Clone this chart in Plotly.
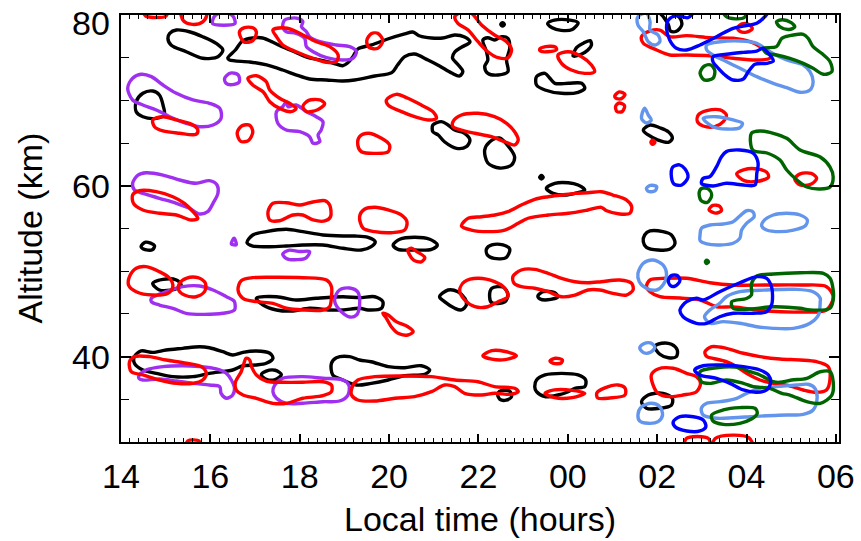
import plotly.graph_objects as go

# ---- contour outlines: (local time in hours after 14 LT, altitude km) ----
black_contours = [
    [(15.09,77.86),(15.24,78.24),(15.53,78.04),(15.83,77.46),(16.13,76.69),(16.28,75.9),(16.17,75.12),(15.83,74.93),(15.46,75.7),(15.12,76.49),(15.05,77.27)],
    [(16.39,74.96),(16.56,75.9),(16.72,76.96),(16.95,77.31),(17.17,77.31),(17.39,76.84),(17.62,76.25),(17.89,75.67),(18.16,75.08),(18.45,74.73),(18.74,74.38),(18.96,74.06),(19.07,74.38),(19.19,75.12),(19.3,76.02),(19.61,76.49),(19.97,77.19),(20.35,77.78),(20.53,78.01),(20.69,77.54),(20.95,77.31),(21.2,77.31),(21.47,77.66),(21.69,77.42),(21.81,76.84),(21.63,76.25),(21.47,75.67),(21.42,74.96),(21.54,74.2),(21.65,73.4),(21.58,72.86),(21.4,73.21),(21.13,74.03),(20.87,74.73),(20.57,75.43),(20.35,75.12),(20.19,74.15),(20.06,73.25),(19.68,72.86),(19.23,72.39),(18.96,72.27),(18.6,72.39),(18.22,72.51),(17.93,72.97),(17.62,73.56),(17.26,74.15),(16.88,74.5),(16.43,74.73)],
    [(14.34,69.85),(14.49,70.83),(14.71,71.1),(14.86,70.63),(14.94,69.46),(14.97,68.29),(14.79,67.9),(14.49,68.09),(14.34,68.68)],
    [(22.1,77.07),(22.21,77.34),(22.36,77.07),(22.52,77.46),(22.66,77.27),(22.7,76.1),(22.63,74.73),(22.66,73.36),(22.44,72.97),(22.21,73.17),(22.14,73.95),(22.21,74.73),(22.18,75.7)],
    [(22.5,78.9),(22.54,79.1),(22.58,78.9),(22.54,78.7)],
    [(23.55,79.0),(23.7,79.4),(24.05,79.4),(24.23,79.1),(24.1,78.3),(23.85,78.2),(23.65,78.5)],
    [(24.2,76.2),(24.35,76.7),(24.5,77.0),(24.53,76.5),(24.45,75.9),(24.3,75.4),(24.12,75.2)],
    [(23.3,72.78),(23.49,73.17),(23.6,72.59),(23.71,72.0),(24.01,72.0),(24.31,72.0),(24.38,71.42),(24.23,70.95),(23.86,70.83),(23.49,71.22),(23.3,71.8)],
    [(20.98,67.12),(21.17,67.51),(21.32,67.12),(21.47,66.53),(21.69,66.15),(21.81,65.36),(21.73,64.58),(21.51,64.39),(21.24,65.16),(21.1,65.95),(20.98,66.33)],
    [(22.14,64.19),(22.25,65.13),(22.47,65.6),(22.7,64.43),(22.81,63.37),(22.74,62.43),(22.47,62.08),(22.21,62.67)],
    [(26.05,80.4),(26.3,80.3),(26.5,79.7),(26.55,78.83),(26.43,78.1),(26.3,78.1),(26.25,78.9),(26.15,79.7)],
    [(25.69,66.53),(25.84,67.12),(26.06,66.8),(26.25,66.33),(26.34,65.56),(26.25,65.09),(26.02,65.36),(25.8,65.95)],
    [(25.72,54.24),(25.84,54.71),(26.13,54.63),(26.32,54.24),(26.4,53.27),(26.28,52.56),(26.02,52.48),(25.76,52.8),(25.69,53.45)],
    [(23.37,61.0),(23.41,61.2),(23.45,61.0),(23.41,60.8)],
    [(23.52,59.71),(23.71,60.29),(24.01,60.36),(24.23,60.09),(24.38,59.51),(24.16,59.12),(23.93,58.92),(23.67,59.12)],
    [(16.82,53.34),(16.95,54.24),(17.25,54.63),(17.7,54.91),(18.07,54.63),(18.52,54.24),(18.97,54.12),(19.23,54.12),(19.53,53.97),(19.69,53.45),(19.6,52.87),(19.38,52.48),(18.97,52.68),(18.52,53.07),(18.07,53.07),(17.7,52.95),(17.33,52.87),(16.95,52.95)],
    [(20.09,53.07),(20.24,53.74),(20.57,53.97),(20.91,53.74),(21.08,53.07),(20.95,52.56),(20.57,52.48),(20.2,52.56)],
    [(22.18,52.6),(22.3,53.07),(22.55,53.07),(22.7,52.6),(22.62,51.6),(22.35,51.5),(22.2,51.9)],
    [(21.13,47.01),(21.32,47.8),(21.54,47.6),(21.7,46.8),(21.73,46.04),(21.62,45.46),(21.47,45.66),(21.24,46.43)],
    [(22.25,47.0),(22.3,48.0),(22.55,48.15),(22.66,47.3),(22.59,46.4),(22.3,46.3)],
    [(23.33,47.1),(23.45,47.6),(23.7,47.5),(23.78,47.0),(23.55,46.65),(23.38,46.75)],
    [(14.45,52.9),(14.55,53.4),(14.75,53.0),(14.7,52.5),(14.5,52.6)],
    [(14.71,48.58),(14.94,49.05),(15.24,48.97),(15.35,48.38),(15.2,47.88),(14.86,47.8)],
    [(17.03,46.83),(17.48,47.01),(17.92,46.63),(18.37,46.83),(18.97,47.01),(19.34,46.9),(19.68,47.01),(19.86,46.43),(19.83,45.66),(19.53,45.46),(19.34,45.66),(18.97,45.46),(18.67,45.46),(18.22,45.66),(17.85,45.34),(17.48,45.46),(17.18,46.04)],
    [(14.3,40.0),(14.45,40.66),(14.71,40.5),(15.01,40.77),(15.38,40.97),(15.76,41.16),(15.98,41.04),(16.28,40.57),(16.5,40.19),(16.73,40.5),(17.03,40.66),(17.33,40.39),(17.4,39.8),(17.25,39.22),(17.03,39.02),(16.73,38.93),(16.5,38.43),(15.98,38.04),(15.61,37.65),(15.16,37.65),(14.79,38.04),(14.49,38.43),(14.3,39.22)],
    [(17.14,37.85),(17.25,38.3),(17.45,38.4),(17.59,37.9),(17.45,37.3),(17.25,37.35)],
    [(18.71,39.22),(18.82,39.87),(19.12,40.0),(19.34,39.6),(19.6,39.4),(19.98,38.82),(20.35,38.7),(20.72,38.93),(20.91,38.43),(20.8,37.93),(20.35,37.76),(19.98,37.26),(19.6,36.87),(19.27,36.67),(18.97,37.26),(18.74,37.85)],
    [(22.43,35.6),(22.5,36.0),(22.7,35.95),(22.74,35.3),(22.62,34.9),(22.48,35.0)],
    [(23.3,37.26),(23.49,37.85),(23.86,38.04),(24.23,37.85),(24.4,37.26),(24.38,36.48),(24.16,36.29),(24.01,35.89),(23.78,35.5),(23.49,35.31),(23.3,35.89),(23.26,36.48)],
    [(25.95,41.16),(26.1,41.56),(26.32,41.44),(26.45,40.77),(26.43,40.0),(26.25,39.87),(26.06,40.27)],
    [(25.65,34.72),(25.8,35.5),(26.13,35.7),(26.34,35.12),(26.32,34.33),(26.06,33.95),(25.76,33.95)],
]

purple_contours = [
    [(16.05,79.0),(16.1,79.9),(16.3,80.3),(16.5,79.9),(16.55,79.0),(16.3,78.8)],
    [(17.66,79.41),(17.77,79.61),(17.96,79.61),(18.07,79.22),(18.04,78.63),(18.15,78.04),(18.22,77.46),(18.45,76.87),(18.82,76.49),(19.12,76.29),(19.27,75.7),(19.19,74.93),(18.97,74.73),(18.6,75.0),(18.3,75.7),(18.15,76.29),(18.11,77.27),(17.92,77.86),(17.7,78.04),(17.62,78.63)],
    [(16.32,72.6),(16.45,73.2),(16.62,73.0),(16.65,72.2),(16.5,71.85),(16.35,72.0)],
    [(17.48,68.68),(17.62,69.26),(17.7,69.85),(17.74,69.26),(17.92,69.46),(18.15,68.68),(18.37,68.09),(18.52,67.51),(18.48,66.53),(18.41,65.95),(18.45,65.16),(18.3,64.98),(18.22,65.75),(18.0,66.33),(17.7,66.53),(17.51,67.32)],
    [(14.15,71.42),(14.26,72.59),(14.45,73.06),(14.68,72.78),(14.94,71.8),(15.24,70.83),(15.61,70.05),(15.98,69.66),(16.21,69.07),(16.24,67.9),(16.06,67.12),(15.76,66.92),(15.46,67.32),(15.09,68.09),(14.79,68.88),(14.49,69.46),(14.26,70.05)],
    [(14.26,60.29),(14.38,61.26),(14.56,61.53),(14.94,61.26),(15.31,60.68),(15.68,60.29),(15.98,60.6),(16.15,60.09),(16.17,59.12),(16.06,57.95),(15.94,56.97),(15.76,56.7),(15.53,57.37),(15.24,57.95),(14.86,58.54),(14.49,59.12),(14.3,59.51)],
    [(16.47,53.2),(16.53,53.85),(16.58,53.1)],
    [(17.62,52.0),(17.75,52.45),(18.0,52.3),(18.22,52.3),(18.15,51.6),(17.95,51.35),(17.7,51.5)],
    [(14.68,46.83),(15.01,47.6),(15.38,48.19),(15.76,48.27),(16.06,47.8),(16.36,47.01),(16.5,46.63),(16.54,46.43),(16.54,45.46),(16.28,45.07),(15.83,44.95),(15.46,45.07),(15.16,45.66),(14.86,46.04),(14.68,46.43)],
    [(18.78,46.63),(18.89,47.8),(19.12,48.03),(19.3,47.56),(19.34,46.04),(19.27,44.87),(19.12,44.64),(18.89,45.46)],
    [(14.41,37.85),(14.56,38.43),(14.94,38.82),(15.38,38.93),(15.76,38.82),(16.13,38.55),(16.36,38.04),(16.47,37.26),(16.54,36.29),(16.5,35.5),(16.36,35.12),(16.24,35.7),(16.21,36.48),(15.98,36.67),(15.61,36.87),(15.24,37.14),(14.86,37.38),(14.49,37.26),(14.4,37.45)],
    [(17.44,36.67),(17.62,37.46),(18.07,37.65),(18.52,37.46),(18.97,37.26),(19.1,36.67),(19.08,35.5),(18.89,34.8),(18.52,34.72),(18.07,34.53),(17.7,34.53),(17.48,35.12),(17.4,35.89)],
]

red_contours = [
    [(14.5,80.6),(14.55,79.9),(14.8,79.7),(15.0,79.85),(15.05,80.6)],
    [(15.35,80.5),(15.4,79.3),(15.6,78.9),(15.83,79.2),(15.92,80.0),(15.9,80.5)],
    [(16.65,78.0),(16.75,78.5),(16.95,78.5),(17.03,78.0),(16.95,77.0),(16.75,76.85)],
    [(17.4,78.24),(17.62,78.51),(17.85,78.24),(18.07,77.66),(18.37,76.87),(18.67,76.29),(18.86,75.32),(18.82,74.53),(18.6,74.46),(18.3,74.93),(17.92,75.7),(17.62,76.49),(17.48,77.46)],
    [(16.84,72.59),(17.03,72.89),(17.25,72.19),(17.33,71.22),(17.55,70.25),(17.77,69.66),(17.92,69.07),(17.81,68.68),(17.55,69.07),(17.33,69.85),(17.18,71.02),(16.95,71.8)],
    [(18.07,69.3),(18.2,70.0),(18.45,70.05),(18.56,69.6),(18.4,68.9),(18.15,68.7)],
    [(16.6,66.2),(16.7,67.0),(16.88,67.1),(16.95,66.3),(16.85,65.3),(16.68,65.2)],
    [(14.71,67.71),(14.94,68.09),(15.24,67.71),(15.61,67.12),(15.72,66.53),(15.68,66.03),(15.31,66.15),(14.94,66.42),(14.75,66.92)],
    [(19.34,65.75),(19.53,66.15),(19.83,65.56),(20.01,64.78),(19.98,63.99),(19.68,63.8),(19.38,63.99),(19.3,64.78)],
    [(19.5,77.0),(19.6,77.8),(19.75,77.85),(19.86,77.0),(19.75,76.1),(19.55,76.2)],
    [(21.47,79.8),(21.62,80.3),(21.84,80.2),(22.07,78.83),(22.36,77.66),(22.63,76.87),(22.74,75.9),(22.66,75.0),(22.44,75.0),(22.21,75.7),(21.99,76.87),(21.77,78.24),(21.54,79.03)],
    [(23.37,76.0),(23.5,76.3),(23.72,76.25),(23.75,75.95),(23.55,75.7),(23.4,75.75)],
    [(23.78,75.32),(24.01,75.7),(24.31,75.12),(24.53,74.15),(24.6,73.36),(24.38,73.17),(24.08,73.56),(23.86,74.34)],
    [(19.94,70.05),(20.16,70.71),(20.42,70.25),(20.72,69.46),(20.98,68.68),(21.06,67.9),(20.87,67.71),(20.57,68.09),(20.28,68.68),(19.98,69.46)],
    [(21.43,67.51),(21.62,68.29),(21.99,68.49),(22.36,68.09),(22.63,67.32),(22.81,66.33),(22.89,65.36),(22.81,64.78),(22.59,65.16),(22.29,65.75),(21.92,66.15),(21.62,66.53),(21.43,66.92)],
    [(25.65,77.46),(25.84,78.13),(26.06,78.24),(26.28,77.46),(26.66,77.58),(27.18,77.34),(27.7,77.27),(28.08,76.87),(28.37,76.1),(28.56,75.52),(28.52,74.93),(28.23,74.73),(27.7,74.93),(27.18,75.23),(26.66,75.32),(26.28,75.32),(25.99,75.9),(25.69,76.69)],
    [(27.8,78.5),(27.9,78.95),(28.05,78.9),(28.13,78.4),(28.0,78.0),(27.85,78.1)],
    [(25.05,70.5),(25.15,71.0),(25.28,70.7),(25.2,70.2),(25.08,70.25)],
    [(25.07,69.3),(25.15,69.7),(25.27,69.4),(25.22,68.7),(25.1,68.7)],
    [(25.86,65.1),(25.9,65.35),(25.95,65.1),(25.9,64.85)],
    [(26.92,68.29),(27.11,68.79),(27.41,68.88),(27.55,68.29),(27.48,67.51),(27.29,66.92),(27.03,67.0),(26.9,67.51)],
    [(27.78,61.4),(27.95,61.9),(28.2,62.0),(28.45,61.6),(28.49,61.0),(28.2,60.5),(27.95,60.6)],
    [(29.08,60.8),(29.2,61.4),(29.45,61.45),(29.57,60.9),(29.45,60.2),(29.2,60.1)],
    [(27.16,57.2),(27.25,57.7),(27.4,57.6),(27.44,57.1),(27.3,56.8)],
    [(21.62,55.29),(21.77,56.2),(22.07,56.38),(22.37,56.58),(22.66,56.97),(22.96,57.75),(23.26,58.42),(23.56,58.72),(23.86,58.92),(24.16,59.12),(24.45,59.19),(24.75,59.31),(25.01,58.92),(25.31,58.34),(25.43,57.55),(25.39,56.78),(25.16,56.7),(24.87,57.08),(24.75,57.48),(24.45,57.17),(24.01,56.78),(23.56,56.58),(23.11,56.2),(22.89,55.61),(22.59,54.82),(22.21,54.63),(21.84,54.82)],
    [(19.34,56.38),(19.45,57.25),(19.68,57.48),(19.98,57.17),(20.28,56.58),(20.4,55.8),(20.35,54.82),(20.05,54.51),(19.68,54.63),(19.42,55.02)],
    [(20.42,52.5),(20.5,52.68),(20.62,52.3),(20.8,51.6),(20.72,51.1),(20.55,51.3),(20.45,52.0)],
    [(21.58,47.8),(21.69,48.77),(21.99,49.17),(22.36,48.77),(22.59,48.0),(22.66,47.01),(22.44,46.43),(22.21,45.84),(21.92,45.84),(21.69,46.63)],
    [(22.77,49.36),(22.96,50.14),(23.26,50.22),(23.56,49.75),(23.86,49.17),(24.16,48.77),(24.45,48.65),(24.75,48.77),(25.16,48.97),(25.43,48.58),(25.46,47.8),(25.31,47.21),(25.01,47.41),(24.72,47.8),(24.45,47.8),(24.16,47.21),(23.86,47.01),(23.56,47.6),(23.26,48.0),(22.96,48.19),(22.8,48.58)],
    [(14.26,58.92),(14.41,59.42),(14.79,59.31),(15.16,58.72),(15.42,57.95),(15.61,56.97),(15.72,56.19),(15.57,56.0),(15.24,56.58),(14.86,56.78),(14.49,57.17),(14.28,57.95)],
    [(17.29,56.97),(17.4,57.95),(17.7,58.02),(18.0,57.75),(18.22,58.02),(18.56,58.26),(18.67,57.75),(18.69,56.38),(18.56,55.88),(18.3,56.0),(18.07,56.58),(17.85,56.58),(17.55,55.91),(17.33,56.0)],
    [(14.19,49.36),(14.34,50.34),(14.56,50.53),(14.86,49.94),(15.09,49.17),(15.16,48.19),(15.05,47.41),(14.71,47.21),(14.34,47.6),(14.17,48.38)],
    [(15.31,48.58),(15.46,49.17),(15.72,49.24),(15.89,48.58),(15.87,47.6),(15.68,47.01),(15.42,47.21),(15.29,47.8)],
    [(16.62,47.8),(16.69,48.89),(16.95,49.24),(17.48,49.29),(18.07,49.24),(18.6,48.97),(18.71,48.19),(18.71,47.01),(18.67,45.84),(18.52,45.46),(18.07,45.46),(17.7,45.66),(17.4,46.24),(17.03,46.43),(16.73,46.83)],
    [(14.19,39.4),(14.3,40.0),(14.64,40.0),(15.01,39.6),(15.46,39.22),(15.8,38.82),(15.91,38.04),(15.83,37.26),(15.61,36.87),(15.24,36.87),(14.86,37.26),(14.49,37.85),(14.23,38.23)],
    [(16.8,39.8),(16.88,39.6),(16.92,38.82),(17.03,37.85),(17.25,37.14),(17.62,36.99),(18.07,36.99),(18.52,37.06),(18.71,36.67),(18.71,35.89),(18.52,35.42),(18.07,35.12),(17.7,34.53),(17.4,34.53),(17.03,35.12),(16.73,35.5),(16.58,36.09),(16.56,36.99),(16.69,38.23),(16.74,39.02)],
    [(19.3,37.26),(19.68,37.65),(20.35,37.73),(20.95,37.65),(21.47,37.26),(21.99,37.06),(22.36,36.48),(22.81,36.29),(22.89,35.89),(22.74,35.59),(22.36,35.7),(22.07,35.5),(21.69,35.7),(21.47,36.48),(21.24,36.67),(20.95,35.89),(20.57,35.31),(20.13,35.12),(19.68,34.8),(19.3,34.92),(19.16,35.5),(19.18,36.5)],
    [(19.86,45.07),(19.98,44.87),(20.16,44.09),(20.42,43.5),(20.54,42.92),(20.42,42.53),(20.2,42.73),(20.05,43.5),(19.94,44.48)],
    [(22.1,40.1),(22.3,40.7),(22.6,40.6),(22.85,40.1),(22.6,39.65),(22.3,39.7)],
    [(23.6,39.5),(23.72,39.8),(23.88,39.6),(23.85,39.25),(23.68,39.2)],
    [(23.49,35.7),(23.7,36.1),(24.1,36.05),(24.38,35.7),(24.1,35.2),(23.7,35.2)],
    [(24.65,35.74),(24.83,36.33),(25.12,36.68),(25.28,36.33),(25.28,35.5),(24.94,35.15),(24.67,35.15)],
    [(25.76,48.19),(25.84,48.97),(26.21,49.17),(26.66,49.17),(27.18,48.65),(27.7,48.38),(28.45,48.38),(29.2,48.38),(29.79,48.19),(29.94,47.01),(29.79,45.46),(29.2,45.22),(28.45,45.34),(27.7,45.81),(27.33,45.84),(26.96,46.63),(26.51,46.86),(26.06,47.01),(25.84,47.6)],
    [(27.07,40.57),(27.22,41.16),(27.55,40.97),(27.93,40.39),(28.3,40.0),(28.75,39.72),(29.2,39.6),(29.57,39.4),(29.83,38.82),(29.87,37.46),(29.79,36.09),(29.57,35.82),(29.27,36.09),(28.9,36.67),(28.6,36.87),(28.3,37.26),(28.0,38.04),(27.78,38.82),(27.55,39.4),(27.25,39.8),(27.11,40.0)],
    [(25.87,37.85),(26.02,38.55),(26.36,38.63),(26.66,38.04),(26.88,37.65),(26.97,36.87),(26.88,35.89),(26.58,35.5),(26.28,35.31),(26.02,35.7),(25.91,36.67)],
    [(26.62,29.5),(26.65,30.4),(26.9,30.65),(27.15,30.4),(27.18,29.5)],
    [(27.25,29.5),(27.3,30.4),(27.7,30.8),(28.05,30.5),(28.14,29.5)],
    [(15.45,29.5),(15.5,30.15),(15.62,30.25),(15.75,30.1),(15.77,29.5)],
]

lightblue_contours = [
    [(25.57,79.8),(25.76,80.2),(25.84,79.22),(25.84,78.24),(26.02,77.66),(26.06,76.87),(25.95,76.49),(25.8,76.87),(25.69,78.04),(25.57,78.83)],
    [(27.11,76.49),(27.41,76.87),(27.86,76.96),(28.23,76.69),(28.52,75.7),(28.9,74.73),(29.27,74.15),(29.42,73.36),(29.49,72.19),(29.42,71.22),(29.2,70.95),(28.9,71.49),(28.6,72.0),(28.23,72.78),(27.93,73.56),(27.7,74.15),(27.48,74.73),(27.25,75.32),(27.11,75.9)],
    [(25.65,67.9),(25.72,69.1),(25.8,68.3),(25.87,67.7),(25.76,67.35)],
    [(27.03,67.9),(27.33,68.09),(27.7,67.71),(27.91,67.32),(27.85,66.8),(27.55,66.65),(27.25,66.92)],
    [(25.76,59.7),(25.85,60.05),(25.99,59.9),(25.95,59.4),(25.8,59.35)],
    [(26.96,54.24),(26.99,55.02),(27.18,55.41),(27.48,55.53),(27.7,55.8),(27.85,56.46),(28.0,57.08),(28.14,56.97),(28.17,56.38),(28.0,55.61),(27.89,54.82),(27.85,53.85),(27.7,53.27),(27.41,53.07),(27.11,53.19),(26.96,53.57)],
    [(28.37,55.8),(28.6,56.58),(28.9,56.78),(29.2,56.58),(29.36,56.0),(29.31,55.29),(29.05,54.82),(28.75,54.63),(28.45,54.82),(28.34,55.29)],
    [(25.57,49.75),(25.69,50.93),(25.91,51.31),(26.13,50.73),(26.21,49.56),(26.13,48.38),(25.99,47.8),(25.76,48.0),(25.6,48.77)],
    [(27.55,47.01),(27.85,47.6),(28.45,47.8),(29.05,47.88),(29.49,47.6),(29.65,46.83),(29.65,46.43),(29.61,44.87),(29.42,43.9),(29.05,43.31),(28.6,43.31),(28.23,43.5),(27.85,43.9),(27.48,44.09),(27.18,43.9),(27.06,44.67),(27.18,45.46),(27.4,46.24)],
    [(25.61,41.0),(25.7,41.5),(25.85,41.6),(25.95,41.1),(25.85,40.5),(25.7,40.45)],
    [(26.99,33.95),(27.11,34.53),(27.41,34.72),(27.78,35.12),(28.0,35.7),(28.3,36.29),(28.67,36.48),(29.12,36.67),(29.38,36.76),(29.53,36.29),(29.58,35.12),(29.49,33.75),(29.27,33.24),(28.9,33.16),(28.45,33.08),(28.08,32.96),(27.7,32.84),(27.33,32.78),(27.03,33.16)],
    [(25.57,33.16),(25.65,34.13),(25.87,34.53),(26.06,34.13),(26.12,33.16),(26.02,32.38),(25.8,32.19),(25.61,32.46)],
]

green_contours = [
    [(28.37,76.1),(28.67,76.29),(28.79,77.27),(28.97,77.58),(29.27,77.74),(29.38,77.27),(29.49,76.29),(29.68,75.52),(29.87,74.53),(29.91,73.36),(29.72,73.06),(29.49,73.76),(29.27,74.34),(28.97,74.93),(28.67,75.32),(28.45,75.52)],
    [(27.47,80.5),(27.55,79.8),(27.75,79.55),(27.95,79.7),(28.0,80.5)],
    [(28.67,79.2),(28.8,79.45),(29.0,79.1),(29.08,78.6),(28.95,78.3),(28.75,78.6)],
    [(26.96,73.2),(27.05,74.0),(27.2,74.15),(27.29,73.5),(27.25,72.6),(27.05,72.4)],
    [(28.11,66.15),(28.3,66.42),(28.6,66.15),(28.9,65.56),(29.2,64.19),(29.65,63.37),(29.87,62.2),(29.94,61.03),(29.87,59.86),(29.65,59.63),(29.35,59.86),(29.13,60.68),(28.9,61.85),(28.75,63.02),(28.46,63.84),(28.14,64.19)],
    [(26.94,59.2),(27.0,59.7),(27.15,59.6),(27.22,58.9),(27.12,58.05),(26.98,58.3)],
    [(27.08,51.1),(27.11,51.3),(27.15,51.1),(27.11,50.9)],
    [(28.23,49.44),(28.6,49.67),(29.2,49.82),(29.72,49.75),(29.87,49.17),(29.94,47.8),(29.94,46.63),(29.87,45.66),(29.42,45.46),(29.2,45.66),(28.6,45.84),(28.08,45.57),(27.7,45.66),(27.67,46.43),(28.0,46.8),(28.11,47.21),(28.11,48.5)],
    [(26.96,38.23),(27.33,38.7),(27.85,38.7),(28.08,38.23),(28.3,37.85),(28.6,37.06),(28.75,36.99),(29.01,37.26),(29.35,37.46),(29.65,38.23),(29.87,38.23),(29.94,37.06),(29.91,35.5),(29.65,34.53),(29.35,34.72),(28.97,35.5),(28.79,35.7),(28.52,36.29),(28.15,36.48),(27.93,36.87),(27.55,37.26),(27.18,36.87),(26.99,37.06)],
    [(27.22,33.16),(27.48,33.75),(27.85,34.02),(28.19,33.95),(28.24,33.36),(28.11,32.69),(27.85,32.19),(27.48,32.07),(27.25,32.46)],
]

blue_contours = [
    [(26.88,80.5),(26.69,79.68),(26.43,79.92),(26.25,79.41),(26.21,78.44),(26.28,77.07),(26.43,76.1),(26.66,75.9),(26.96,76.49),(27.33,77.46),(27.7,78.44),(28.0,78.75),(28.23,79.03),(28.41,79.8),(28.49,80.5),(27.7,81.0)],
    [(27.25,75.12),(27.55,75.4),(27.93,75.63),(28.23,75.78),(28.37,76.1),(28.49,75.52),(28.6,74.61),(28.45,74.34),(28.19,74.23),(28.04,73.36),(27.93,72.51),(27.7,72.39),(27.52,72.97),(27.37,73.76),(27.25,74.53)],
    [(27.18,61.07),(27.33,62.24),(27.44,63.41),(27.55,64.0),(27.85,64.19),(28.15,63.81),(28.26,62.63),(28.23,61.46),(28.19,60.09),(27.93,60.09),(27.55,60.29),(27.25,59.98),(26.99,60.29),(27.03,60.87)],
    [(26.32,61.0),(26.35,62.2),(26.5,62.45),(26.62,62.0),(26.69,61.0),(26.55,60.1),(26.38,60.2)],
    [(26.25,48.9),(26.32,49.5),(26.45,49.5),(26.51,48.9),(26.4,48.25),(26.3,48.3)],
    [(27.03,46.63),(27.4,47.6),(27.85,48.65),(28.23,49.36),(28.45,49.17),(28.56,48.19),(28.58,46.63),(28.56,46.04),(28.45,45.26),(28.15,45.07),(27.7,45.07),(27.4,44.67),(27.11,43.9),(26.88,43.9),(26.58,44.67),(26.51,45.46),(26.66,46.43),(26.88,46.83)],
    [(26.84,38.43),(27.03,38.93),(27.48,39.02),(27.93,38.82),(28.3,38.43),(28.49,37.85),(28.54,36.99),(28.45,36.09),(28.23,35.82),(27.93,36.09),(27.63,36.87),(27.33,37.46),(26.96,37.85)],
    [(26.36,32.38),(26.51,32.96),(26.81,32.96),(27.03,32.58),(27.09,31.79),(26.96,31.29),(26.66,31.29),(26.4,31.79)],
]

x_tick_values = [14, 16, 18, 20, 22, 24, 26, 28, 30]
x_tick_labels = ["14", "16", "18", "20", "22", "00", "02", "04", "06"]
y_tick_values = [40, 60, 80]
y_tick_labels = ["40", "60", "80"]

series = [
    (black_contours, "#000000"),
    (purple_contours, "#a030f0"),
    (red_contours, "#ff0000"),
    (lightblue_contours, "#6495ed"),
    (green_contours, "#006400"),
    (blue_contours, "#0000ff"),
]

fig = go.Figure()
for contours, color in series:
    xs, ys = [], []
    for c in contours:
        pts = list(c) + [c[0]]
        xs += [p[0] for p in pts] + [None]
        ys += [p[1] for p in pts] + [None]
    fig.add_trace(go.Scatter(
        x=xs, y=ys, mode="lines",
        line=dict(color=color, width=3.4, shape="spline", smoothing=0.9),
        connectgaps=False, hoverinfo="skip", showlegend=False,
    ))

FONT = "Liberation Sans, Arial, sans-serif"
Y_RANGE = [30, 80]

annotations = [
    dict(text="Local time (hours)", xref="paper", yref="paper", x=0.5, y=0,
         xanchor="center", yanchor="top", yshift=-56, showarrow=False,
         font=dict(size=34, family=FONT, color="black")),
    dict(text="Altitude (km)", xref="paper", yref="paper", x=0, y=0.5,
         xanchor="center", yanchor="middle", xshift=-92, textangle=-90,
         showarrow=False, font=dict(size=34, family=FONT, color="black")),
]
# y tick labels (the top one is nudged down so it stays inside the page)
for v, lab in zip(y_tick_values, y_tick_labels):
    annotations.append(dict(
        text=lab, xref="paper", yref="y", x=0, y=v, xanchor="right", yanchor="middle",
        xshift=-9, yshift=(-8 if v >= Y_RANGE[1] else 0), showarrow=False,
        font=dict(size=34, family=FONT, color="black")))

fig.update_layout(
    width=861, height=541,
    margin=dict(l=121, r=22, t=15, b=99),
    plot_bgcolor="white", paper_bgcolor="white",
    font=dict(family=FONT, color="black", size=34),
    annotations=annotations,
)
fig.update_xaxes(
    range=[14, 30.07], tickmode="array", tickvals=x_tick_values, ticktext=x_tick_labels,
    ticks="inside", ticklen=8, tickwidth=1.5, tickcolor="black",
    minor=dict(dtick=0.2, tick0=14, ticks="inside", ticklen=4, tickwidth=1, tickcolor="black"),
    showline=True, linewidth=2, linecolor="black", mirror="allticks",
    showgrid=False, zeroline=False, automargin=False,
    tickfont=dict(size=34, family=FONT), ticklabelstandoff=3, ticklabeloverflow="allow",
)
fig.update_yaxes(
    range=Y_RANGE, tickmode="array", tickvals=y_tick_values, ticktext=y_tick_labels,
    showticklabels=False,
    ticks="inside", ticklen=10, tickwidth=1.5, tickcolor="black",
    minor=dict(dtick=5, tick0=30, ticks="inside", ticklen=8, tickwidth=1.2, tickcolor="black"),
    showline=True, linewidth=2, linecolor="black", mirror="allticks",
    showgrid=False, zeroline=False, automargin=False,
)
fig.write_html("out.html")
